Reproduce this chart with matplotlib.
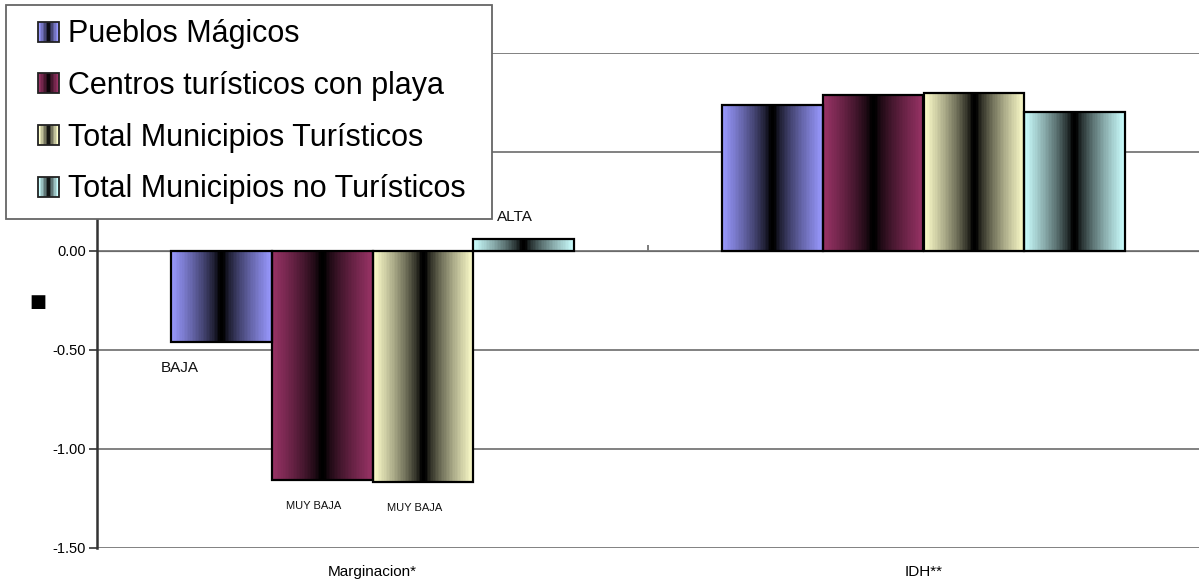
import numpy as np
import matplotlib.pyplot as plt
from matplotlib.legend_handler import HandlerBase
from matplotlib.patches import Rectangle

plt.rcParams['font.family'] = ['Liberation Sans', 'DejaVu Sans']

categories = ["Marginacion*", "IDH**"]
series = ["Pueblos Mágicos", "Centros turísticos con playa",
          "Total Municipios Turísticos", "Total Municipios no Turísticos"]
marginacion = [-0.46, -1.155, -1.165, 0.06]
idh = [0.736, 0.786, 0.798, 0.70]
marg_labels = ["BAJA", "MUY BAJA", "MUY BAJA", "ALTA"]
colors = ["#9999FF", "#993366", "#FFFFCC", "#CCFFFF"]
yticks = [-1.5, -1.0, -0.5, 0.0, 0.5, 1.0]
# 0.50 and 1.00 sit under the legend box in the original
ytick_labels = ["-1.50", "-1.00", "-0.50", "0.00", "", ""]

# label placement (offsets in points, font size)
label_style = [(-30, -19, 11), (-6, -19, 8), (-6, -19, 8), (-6, 16, 11)]


def gradient(color, n=64):
    rgb = np.array(plt.matplotlib.colors.to_rgb(color))
    x = np.linspace(0, 1, n)
    t = np.clip((np.abs(2 * x - 1) - 0.04) / 0.96, 0, 1) ** 0.75
    return t[:, None] * rgb[None, :]


class GradientHandler(HandlerBase):
    def __init__(self, color):
        super().__init__()
        self.color = color

    def create_artists(self, legend, orig_handle, xdescent, ydescent,
                       width, height, fontsize, trans):
        s = 0.66 * fontsize
        x0 = -xdescent + width - s
        y0 = -ydescent + (height - s) / 2
        cols = gradient(self.color, 14)
        arts = []
        for i, c in enumerate(cols):
            r = Rectangle((x0 + i * s / len(cols), y0), s / len(cols) + 0.1, s,
                          facecolor=c, edgecolor='none', transform=trans)
            arts.append(r)
        arts.append(Rectangle((x0, y0), s, s, facecolor='none',
                              edgecolor='#222222', lw=1.3, transform=trans))
        return arts


fig = plt.figure(figsize=(11.99, 5.83), dpi=100)
ax = fig.add_axes([97 / 1199, 1 - 548 / 583, 1 - 97 / 1199, (548 - 53) / 583])

n = len(series)
width = 0.1825
x = np.arange(len(categories))
containers = []
for i in range(n):
    vals = [marginacion[i], idh[i]]
    pos = x - width * n / 2 + width * (i + 0.5)
    bars = ax.bar(pos, vals, width, facecolor='none', edgecolor='black',
                  lw=1.6, zorder=3, label=series[i])
    containers.append(bars)
    img = gradient(colors[i])[None, :, :]
    for p in bars.patches:
        y0, y1 = sorted([p.get_y(), p.get_y() + p.get_height()])
        im = ax.imshow(img, extent=(p.get_x(), p.get_x() + p.get_width(), y0, y1),
                       aspect='auto', interpolation='nearest', zorder=2.5)
        im.set_clip_path(p)
    # data labels for marginacion
    p = bars.patches[0]
    dx, dy, fs = label_style[i]
    ytop = p.get_y() + p.get_height() if dy < 0 else p.get_height()
    ax.annotate(marg_labels[i], (p.get_x() + p.get_width() / 2, ytop),
                xytext=(dx, dy), textcoords='offset points',
                ha='center', va='center', fontsize=fs, color='#111111')

ax.set_xlim(-0.5, 1.5)
ax.set_ylim(-1.5, 1.0)
ax.set_yticks(yticks)
ax.set_yticklabels(ytick_labels, fontsize=10.5)
ax.set_xticks(x)
ax.set_xticklabels(categories, fontsize=11)
ax.tick_params(axis='x', length=0, pad=12)
ax.tick_params(axis='y', length=6, width=1.2, color='#333333', direction='out', pad=2)
ax.yaxis.grid(True, color='#777777', lw=1.3, zorder=1)
ax.set_axisbelow(True)
for s in ['top', 'right', 'bottom']:
    ax.spines[s].set_visible(False)
ax.spines['left'].set_color('#333333')
ax.spines['left'].set_linewidth(1.8)

# category axis crossing at zero, with tick between categories
zero_frac = (0 - ax.get_ylim()[0]) / (ax.get_ylim()[1] - ax.get_ylim()[0])
sec = ax.secondary_xaxis(zero_frac)
sec.set_xticks([0.5])
sec.set_xticklabels([""])
sec.tick_params(length=4, width=1.2, color='#666666', direction='out')
sec.spines['bottom'].set_color('#777777')
sec.spines['bottom'].set_linewidth(1.3)

fig.text(38 / 1199, 1 - 302 / 583, "■", fontsize=13, ha='center', va='center',
         family='DejaVu Sans')

handler_map = {c: GradientHandler(col) for c, col in zip(containers, colors)}
top = 1 - 5 / 583
leg = fig.legend(handles=containers, labels=series, handler_map=handler_map,
                 loc='upper left',
                 bbox_to_anchor=(6 / 1199, top - 0.01, (492 - 6) / 1199, 0.01),
                 mode='expand', borderaxespad=0, fontsize=22, frameon=True,
                 fancybox=False, framealpha=1, edgecolor='#666666',
                 borderpad=0.47, labelspacing=0.71, handlelength=1.25,
                 handleheight=0.7, handletextpad=0.3)
leg.get_frame().set_linewidth(1.3)
leg.set_zorder(10)

fig.savefig("out.png", dpi=100)
